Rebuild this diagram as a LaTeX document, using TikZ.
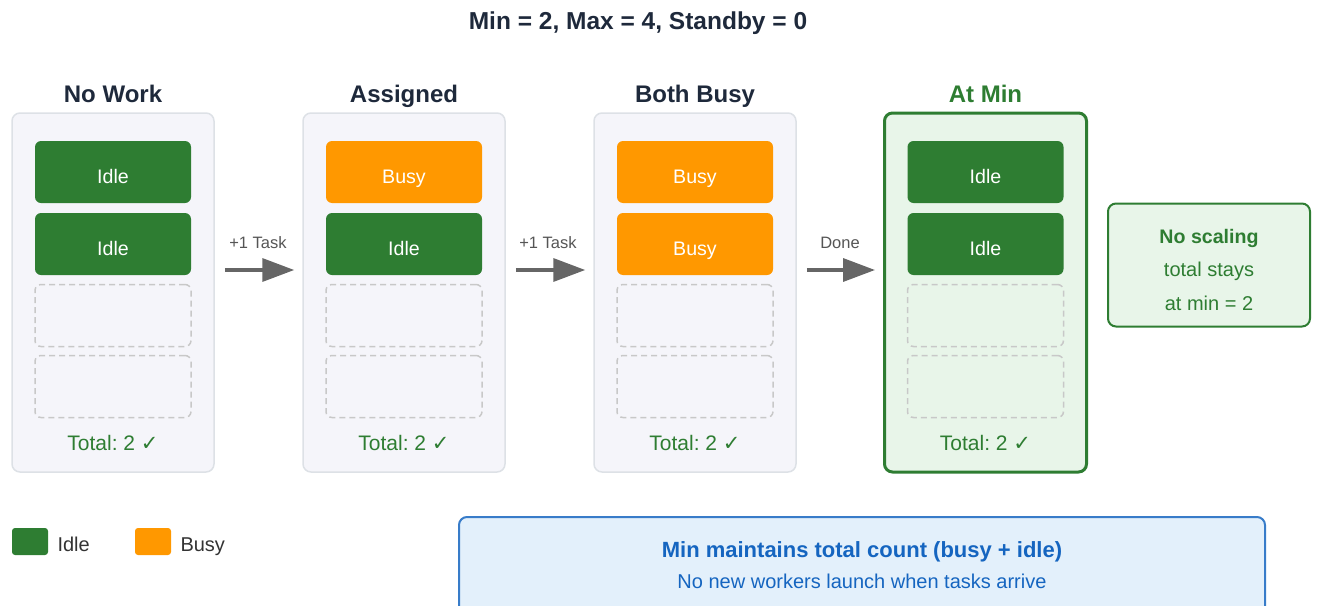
\documentclass[tikz,border=0pt]{standalone}
\usepackage{fontspec}
\setmainfont{Liberation Sans}
\newfontfamily\symf{DejaVu Sans}
\usetikzlibrary{arrows.meta,calc}
\frenchspacing
\definecolor{cgreen}{HTML}{2E7D32}
\definecolor{corange}{HTML}{FF9800}
\definecolor{colfill}{HTML}{F5F5FA}
\definecolor{colline}{HTML}{DDE1E6}
\definecolor{lgreen}{HTML}{E8F5E9}
\definecolor{dashc}{HTML}{C8C8C8}
\definecolor{navy}{HTML}{1E293B}
\definecolor{arrg}{HTML}{666666}
\definecolor{lblue}{HTML}{E3F0FB}
\definecolor{dblue}{HTML}{1565C0}
\definecolor{lgray}{HTML}{555555}
\definecolor{dgray}{HTML}{333333}
\tikzset{
  x=1pt, y=-1pt,
  column/.style={draw=colline, line width=1.5pt, fill=colfill, rounded corners=8pt, minimum width=202pt, minimum height=359pt, inner sep=0pt},
  atmin/.style={draw=cgreen, line width=3pt, fill=lgreen, rounded corners=8pt, minimum width=202pt, minimum height=359pt, inner sep=0pt},
  worker/.style={rounded corners=6pt, minimum width=156pt, minimum height=62pt, inner sep=0pt, text=white, font=\fontsize{19.6}{22}\selectfont, text height=22.6pt, text depth=0pt},
  idle/.style={worker, fill=cgreen},
  busy/.style={worker, fill=corange},
  empty/.style={worker, draw=dashc, line width=1.5pt, dash pattern=on 6pt off 4pt},
  coltitle/.style={anchor=base, font=\bfseries\fontsize{24}{28}\selectfont, text=navy},
  total/.style={anchor=base, font=\fontsize{21}{24}\selectfont, text=cgreen},
  arr/.style={draw=arrg, line width=3.5pt, -{Triangle[length=32pt,width=23pt]}},
  arrlbl/.style={anchor=base, font=\fontsize{16.5}{19}\selectfont, text=lgray},
  notetxt/.style={anchor=base, font=\fontsize{20}{23}\selectfont, text=cgreen},
  legtxt/.style={anchor=base west, font=\fontsize{20}{23}\selectfont, text=dgray},
}
\begin{document}
\begin{tikzpicture}
\useasboundingbox (0,0) rectangle (1317,605);
\clip (0,0) rectangle (1317,605);
\node[anchor=base, font=\bfseries\fontsize{24.5}{28}\selectfont, text=navy] (title) at (638,29) {Min = 2, Max = 4, Standby = 0};

% columns
\node[column] (c1) at (113,292.5) {};
\node[column] (c2) at (404,292.5) {};
\node[column] (c3) at (695,292.5) {};
\node[atmin] (c4) at (985.5,292.5) {};

\node[coltitle] (t1) at (113,102) {No Work};
\node[coltitle] (t2) at (404,102) {Assigned};
\node[coltitle] (t3) at (695,102) {Both Busy};
\node[coltitle, text=cgreen] (t4) at (985.5,102) {At Min};

% column 1
\node[idle] (w11) at (113,172) {Idle};
\node[idle] (w12) at (113,244) {Idle};
\node[empty] (w13) at (113,315.5) {};
\node[empty] (w14) at (113,386.5) {};
\node[total] (tot1) at (113,450) {Total: 2 {\symf ✓}};
% column 2
\node[busy] (w21) at (404,172) {Busy};
\node[idle] (w22) at (404,244) {Idle};
\node[empty] (w23) at (404,315.5) {};
\node[empty] (w24) at (404,386.5) {};
\node[total] (tot2) at (404,450) {Total: 2 {\symf ✓}};
% column 3
\node[busy] (w31) at (695,172) {Busy};
\node[busy] (w32) at (695,244) {Busy};
\node[empty] (w33) at (695,315.5) {};
\node[empty] (w34) at (695,386.5) {};
\node[total] (tot3) at (695,450) {Total: 2 {\symf ✓}};
% column 4
\node[idle] (w41) at (985.5,172) {Idle};
\node[idle] (w42) at (985.5,244) {Idle};
\node[empty] (w43) at (985.5,315.5) {};
\node[empty] (w44) at (985.5,386.5) {};
\node[total] (tot4) at (985.5,450) {Total: 2 {\symf ✓}};

% arrows
\draw[arr] ($(c1.east)+(10,-22.5)$) -- ($(c2.west)+(-8,-22.5)$);
\draw[arr] ($(c2.east)+(10,-22.5)$) -- ($(c3.west)+(-8,-22.5)$);
\draw[arr] ($(c3.east)+(10,-22.5)$) -- ($(c4.west)+(-8,-22.5)$);
\node[arrlbl] (l1) at (258,248) {+1 Task};
\node[arrlbl] (l2) at (548,248) {+1 Task};
\node[arrlbl] (l3) at (840,248) {Done};

% note
\node[draw=cgreen, line width=2pt, fill=lgreen, rounded corners=8pt, minimum width=202pt, minimum height=123pt, inner sep=0pt] (note) at (1209,265) {};
\node[notetxt, font=\bfseries\fontsize{19.6}{23}\selectfont] (n1) at (1209,243.3) {No scaling};
\node[notetxt] (n2) at (1209,276.7) {total stays};
\node[notetxt] (n3) at (1209,310.7) {at min = 2};

% legend
\node[fill=cgreen, rounded corners=3pt, minimum width=36pt, minimum height=27pt, inner sep=0pt] (lg1) at (30,541.5) {};
\node[legtxt] (lgt1) at (54,551) {Idle};
\node[fill=corange, rounded corners=3pt, minimum width=36pt, minimum height=27pt, inner sep=0pt] (lg2) at (153,541.5) {};
\node[legtxt] (lgt2) at (177,551) {Busy};

% bottom box
\node[draw=dblue!85, line width=2pt, fill=lblue, rounded corners=8pt, minimum width=806pt, minimum height=100pt, inner sep=0pt] (bot) at (862,567) {};
\node[anchor=base, font=\bfseries\fontsize{22}{26}\selectfont, text=dblue] (b1) at (862,557) {Min maintains total count (busy + idle)};
\node[anchor=base, font=\fontsize{20}{23}\selectfont, text=dblue] (b2) at (862,588.3) {No new workers launch when tasks arrive};
\end{tikzpicture}
\end{document}
